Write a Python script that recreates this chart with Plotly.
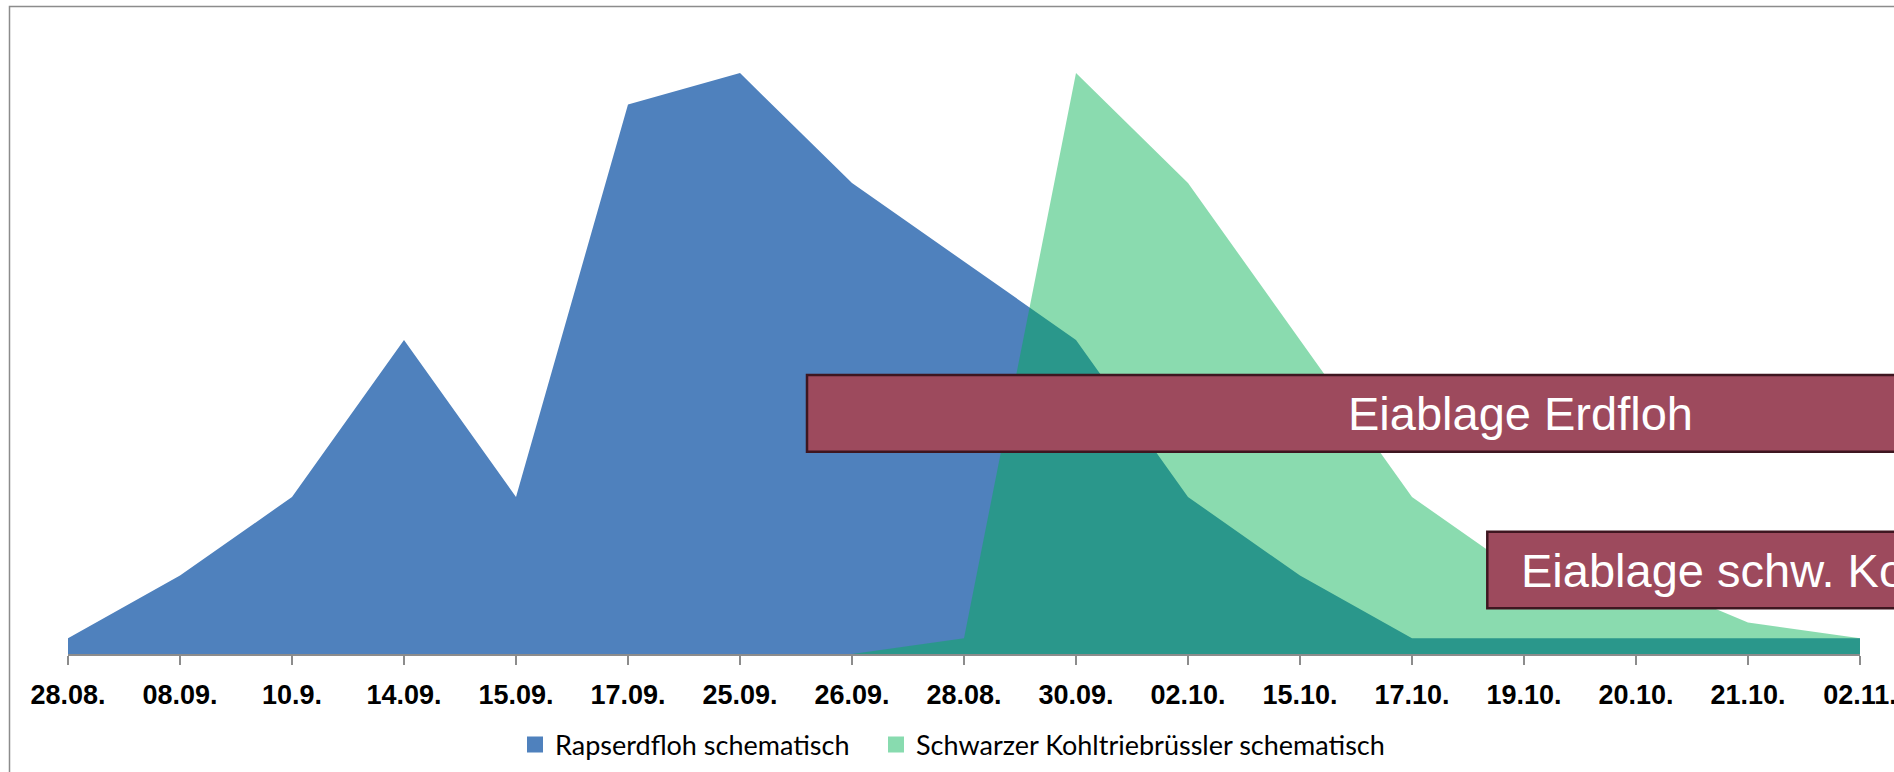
import plotly.graph_objects as go

# Flugdaten (Kategorien der x-Achse, Datumsbeschriftungen)
dates = ["28.08.", "08.09.", "10.9.", "14.09.", "15.09.", "17.09.", "25.09.",
         "26.09.", "28.08.", "30.09.", "02.10.", "15.10.", "17.10.", "19.10.",
         "20.10.", "21.10.", "02.11."]

# Schematische Befallsverläufe
rapserdfloh = [1, 5, 10, 20, 10, 35, 37, 30, 25, 20, 10, 5, 1, 1, 1, 1, 1]
kohltriebruessler = [0, 0, 0, 0, 0, 0, 0, 0, 1, 37, 30, 20, 10, 5, 5, 2, 1]

series_names = ["Rapserdfloh schematisch", "Schwarzer Kohltriebrüssler schematisch"]

BLUE = "#4F81BD"
GREEN_RGBA = "rgba(0,177,81,0.46)"
GREEN_LEGEND = "#88DBAF"
BOX_FILL = "#9D4A5D"
BOX_LINE = "#3E1620"

W, H = 1894, 772
M_L, M_R, M_T, M_B = 68, 34, 26, 118
PW, PH = W - M_L - M_R, H - M_T - M_B


def px_x(px):
    return (px - M_L) / PW


def px_y(py):
    return (H - M_B - py) / PH


xs = list(range(len(dates)))

fig = go.Figure()
fig.add_trace(go.Scatter(x=xs, y=rapserdfloh, mode="lines", fill="tozeroy",
                         fillcolor=BLUE, line=dict(width=0, color=BLUE),
                         showlegend=False, hoverinfo="skip"))
fig.add_trace(go.Scatter(x=xs, y=kohltriebruessler, mode="lines", fill="tozeroy",
                         fillcolor=GREEN_RGBA, line=dict(width=0, color=GREEN_RGBA),
                         showlegend=False, hoverinfo="skip"))

# Legendeneinträge mit quadratischen Symbolen, je Eintrag eine eigene Legende
for name, col, leg in zip(series_names, [BLUE, GREEN_LEGEND], ["legend", "legend2"]):
    fig.add_trace(go.Scatter(x=[None], y=[None], mode="markers", name=name, legend=leg,
                             marker=dict(symbol="square", size=16, color=col)))

shapes = [
    # Diagrammrahmen
    dict(type="rect", xref="paper", yref="paper",
         x0=px_x(9.5), x1=px_x(1910), y0=px_y(790), y1=px_y(6.5),
         line=dict(color="#8C8C8C", width=1.5), fillcolor="rgba(0,0,0,0)", layer="below"),
    # Eiablage Erdfloh
    dict(type="rect", xref="paper", yref="paper",
         x0=px_x(807), x1=px_x(2233), y0=px_y(451.7), y1=px_y(375),
         line=dict(color=BOX_LINE, width=2.5), fillcolor=BOX_FILL, layer="above"),
    # Eiablage schw. Kohltriebrüssler
    dict(type="rect", xref="paper", yref="paper",
         x0=px_x(1487.3), x1=px_x(2600), y0=px_y(608.3), y1=px_y(531.7),
         line=dict(color=BOX_LINE, width=2.5), fillcolor=BOX_FILL, layer="above"),
]

annotations = [
    dict(text="Eiablage Erdfloh", xref="paper", yref="paper",
         x=px_x(1520), y=px_y(413.5), xanchor="center", yanchor="middle",
         showarrow=False, font=dict(family="Liberation Sans, Arial, sans-serif",
                                    size=47, color="white")),
    dict(text="Eiablage schw. Kohltriebrüssler", xref="paper", yref="paper",
         x=px_x(1519), y=px_y(570), xanchor="left", yanchor="middle",
         showarrow=False, font=dict(family="Liberation Sans, Arial, sans-serif",
                                    size=47, color="white")),
]

legend_style = dict(orientation="h", xanchor="left",
                    yref="container", y=(H - 745) / H, yanchor="middle",
                    font=dict(family="Lato, Liberation Sans, sans-serif", size=27,
                              color="black"),
                    bgcolor="rgba(0,0,0,0)")

fig.update_layout(
    width=W, height=H,
    margin=dict(l=M_L, r=M_R, t=M_T, b=M_B, autoexpand=False),
    paper_bgcolor="white", plot_bgcolor="white",
    shapes=shapes, annotations=annotations,
    legend=dict(x=px_x(515), **legend_style),
    legend2=dict(x=px_x(876), **legend_style),
    xaxis=dict(range=[0, len(dates) - 1], tickmode="array", tickvals=xs, ticktext=dates,
               showgrid=False, zeroline=False, showline=True, linecolor="#8C8C8C",
               linewidth=1.5, ticks="outside", ticklen=9, tickcolor="#8C8C8C",
               tickwidth=1.5, ticklabelstandoff=7, ticklabeloverflow="allow",
               automargin=False,
               tickfont=dict(family="Liberation Sans, Arial, sans-serif",
                             size=27, color="black", weight="bold")),
    yaxis=dict(range=[0, 40], visible=False, showgrid=False, zeroline=False,
               automargin=False),
)

fig.write_html("out.html")
